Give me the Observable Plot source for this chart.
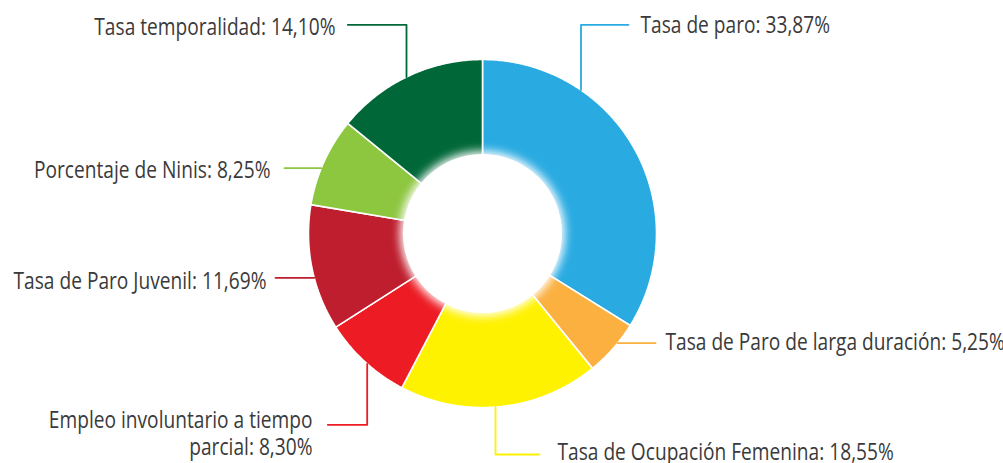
<!DOCTYPE html>
<html>
<head>
<meta charset="utf-8">
<script src="https://cdn.jsdelivr.net/npm/d3@7"></script>
<script src="https://cdn.jsdelivr.net/npm/@observablehq/plot@0.6"></script>
<style>
  html, body { margin: 0; padding: 0; background: #ffffff; }
  #chart svg { display: block; }
</style>
</head>
<body>
<div id="chart"></div>
<script>
// ---- DATA ----
const categories = [
  "Tasa de paro",
  "Tasa de Paro de larga duración",
  "Tasa de Ocupación Femenina",
  "Empleo involuntario a tiempo parcial",
  "Tasa de Paro Juvenil",
  "Porcentaje de Ninis",
  "Tasa temporalidad"
];
const values = [33.87, 5.25, 18.55, 8.30, 11.69, 8.25, 14.10];
const valueLabels = ["33,87%", "5,25%", "18,55%", "8,30%", "11,69%", "8,25%", "14,10%"];
const colors = ["#29abe2", "#fbb040", "#fff200", "#ed1c24", "#be1e2d", "#8dc63f", "#006838"];

// ---- LAYOUT (positions / styles, not data) ----
const W = 1003, H = 463;
const cx = 482, cy = 233, R = 174, r0 = 79.5;
const FONT = "'Open Sans', 'Noto Sans', 'DejaVu Sans', sans-serif";
const FONT_SIZE = 23;
const REF_WIDTH = 253; // target width of the "Tasa de Paro Juvenil" label (condensed face)
const labelLayout = [
  {tx: 640, ty: 25.2, anchor: "start", pts: [[628, 24.3], [580.5, 24.3]], leg: "v"},
  {tx: 665, ty: 342.5, anchor: "start", pts: [[655, 342.7]], leg: "h"},
  {tx: 557, ty: 452.5, anchor: "start", pts: [[539, 454], [495, 454]], leg: "v"},
  {tx: 312, ty: 432, anchor: "end", pts: [[327.3, 424.3], [366.7, 424.3]], leg: "v", wrap: "Empleo involuntario a tiempo\nparcial"},
  {tx: 266, ty: 279.8, anchor: "end", pts: [[275, 277.3]], leg: "h"},
  {tx: 270, ty: 168.5, anchor: "end", pts: [[284, 167.7]], leg: "h"},
  {tx: 335, ty: 25.2, anchor: "end", pts: [[347.3, 24.3], [406, 24.3]], leg: "v"}
];

// ---- build slices ----
const arcs = d3.pie().sort(null).value(d => d)(values);
const slicePts = [];
arcs.forEach((a, i) => {
  const n = Math.max(8, Math.ceil((a.endAngle - a.startAngle) / 0.01));
  const ring = [];
  for (let k = 0; k <= n; k++) {
    const t = a.startAngle + (a.endAngle - a.startAngle) * k / n;
    ring.push([cx + R * Math.sin(t), cy - R * Math.cos(t)]);
  }
  for (let k = n; k >= 0; k--) {
    const t = a.startAngle + (a.endAngle - a.startAngle) * k / n;
    ring.push([cx + (r0 - 4) * Math.sin(t), cy - (r0 - 4) * Math.cos(t)]);
  }
  ring.push(ring[0]);
  ring.forEach(([x, y]) => slicePts.push({cat: categories[i], color: colors[i], x, y}));
});

// ---- leader lines ----
const leaderPts = [];
const labelRows = [];
labelLayout.forEach((L, i) => {
  const pts = L.pts.map(p => p.slice());
  const last = pts[pts.length - 1];
  if (L.leg === "v") {
    const dy = Math.sqrt(R * R - (last[0] - cx) ** 2);
    pts.push([last[0], last[1] < cy ? cy - dy : cy + dy]);
  } else {
    const dx = Math.sqrt(R * R - (last[1] - cy) ** 2);
    pts.push([last[0] < cx ? cx - dx : cx + dx, last[1]]);
  }
  pts.forEach(([x, y]) => leaderPts.push({cat: categories[i], color: colors[i], x, y}));
  const name = L.wrap || categories[i];
  labelRows.push({x: L.tx, y: L.ty, anchor: L.anchor, text: `${name}: ${valueLabels[i]}`});
});

const center = [{x: cx, y: cy}];

const chart = Plot.plot({
  width: W,
  height: H,
  margin: 0,
  x: {domain: [0, W], range: [0, W], axis: null},
  y: {domain: [0, H], range: [0, H], axis: null},
  color: {type: "identity"},
  style: {background: "#ffffff", fontFamily: FONT},
  marks: [
    Plot.line(slicePts, {x: "x", y: "y", z: "cat", fill: d => d.color, stroke: "#ffffff", strokeWidth: 1.6, strokeLinejoin: "miter", curve: "linear"}),
    Plot.dot(center, {x: "x", y: "y", r: r0 + 3, fill: "#ffffff", stroke: null, imageFilter: "blur(5px)"}),
    Plot.dot(center, {x: "x", y: "y", r: r0, fill: "#ffffff", stroke: null}),
    Plot.line(leaderPts, {x: "x", y: "y", z: "cat", stroke: d => d.color, strokeWidth: 1.8, curve: "linear"}),
    Plot.text(labelRows.filter(d => d.anchor === "start"), {x: "x", y: "y", text: "text", textAnchor: "start", fontSize: FONT_SIZE, fontWeight: 400, fill: "#3a3a3a", fontFamily: FONT}),
    Plot.text(labelRows.filter(d => d.anchor === "end"), {x: "x", y: "y", text: "text", textAnchor: "end", fontSize: FONT_SIZE, fontWeight: 400, lineHeight: 1.2, fill: "#3a3a3a", fontFamily: FONT})
  ]
});
document.getElementById("chart").appendChild(chart);

// condense the label face horizontally (reference uses a condensed typeface)
const texts = Array.from(chart.querySelectorAll("text"));
const refText = texts.find(t => t.textContent.startsWith("Tasa de Paro Juvenil"));
const sx = refText ? REF_WIDTH / refText.getComputedTextLength() : 0.85;
texts.forEach(t => {
  const tr = t.getAttribute("transform") || "";
  t.setAttribute("transform", `${tr} scale(${sx},1)`);
});
</script>
</body>
</html>
